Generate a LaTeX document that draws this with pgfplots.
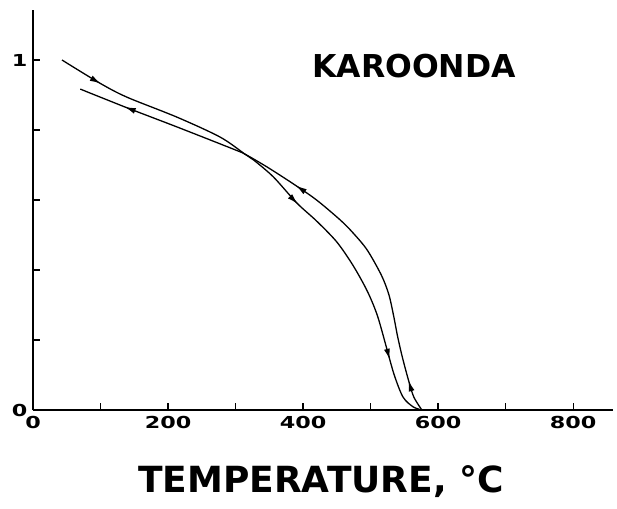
\documentclass[border=0pt]{standalone}
\usepackage{fontspec}
\setmainfont{DejaVu Sans}
\newfontfamily\tickfont[FakeStretch=1.35]{DejaVu Sans}
\usepackage{pgfplots}
\pgfplotsset{compat=1.18}
\usetikzlibrary{arrows.meta,decorations.markings}
\pgfplotstableread{
T v
43 1.000
99 0.934
139 0.894
213 0.837
277 0.780
314 0.731
327 0.714
356 0.666
391 0.591
420 0.540
450 0.480
474 0.413
495 0.340
510 0.270
524 0.175
535 0.100
548 0.037
563 0.009
576 0.000
}\heating
\pgfplotstableread{
T v
576 0.000
564 0.037
556 0.086
547 0.151
540 0.210
534 0.270
527 0.330
516 0.385
495 0.457
474 0.506
455 0.543
420 0.600
388 0.643
347 0.694
314 0.731
296 0.746
213 0.809
136 0.866
70 0.917
}\cooling
\begin{document}
\begin{tikzpicture}
\path[use as bounding box] (-33pt,-98pt) rectangle (584pt,410pt);
\begin{axis}[at={(0pt,0pt)}, anchor=south west, scale only axis,
  width=580pt, height=400pt,
  xmin=0, xmax=859, ymin=0, ymax=1.143,
  axis lines=left, axis line style={-, line width=1.4pt},
  tick align=inside, major tick length=7pt,
  tick style={line width=1.3pt, black},
  xtick={0,100,...,800}, xticklabels={0,,200,,400,,600,,800},
  ytick={0,0.2,0.4,0.6,0.8,1}, yticklabels={0,,,,,1},
  ticklabel style={font=\tickfont\bfseries\fontsize{16.5}{16.5}\selectfont},
  xticklabel style={yshift=-3pt},
  yticklabel style={xshift=-2pt},
  clip=false]
\addplot[black, line width=1.3pt, smooth, tension=0.5,
  postaction={decorate},
  decoration={markings,
    mark=at position 0.086 with {\arrow{Latex[length=11pt,width=6pt]}},
    mark=at position 0.53 with {\arrow{Latex[length=11pt,width=6pt]}},
    mark=at position 0.88 with {\arrow{Latex[length=11pt,width=6pt]}}}]
  table[x=T, y=v] {\heating};
\addplot[black, line width=1.3pt, smooth, tension=0.5,
  postaction={decorate},
  decoration={markings,
    mark=at position 0.065 with {\arrow{Latex[length=11pt,width=6pt]}},
    mark=at position 0.53 with {\arrow{Latex[length=11pt,width=6pt]}},
    mark=at position 0.905 with {\arrow{Latex[length=11pt,width=6pt]}}}]
  table[x=T, y=v] {\cooling};
\end{axis}
\node[anchor=base, font=\bfseries\fontsize{31.5}{32}\selectfont] at (381pt,332pt) {KAROONDA};
\node[anchor=base, font=\bfseries\fontsize{36}{36}\selectfont] at (288pt,-82pt) {TEMPERATURE, °C};
\end{tikzpicture}
\end{document}
